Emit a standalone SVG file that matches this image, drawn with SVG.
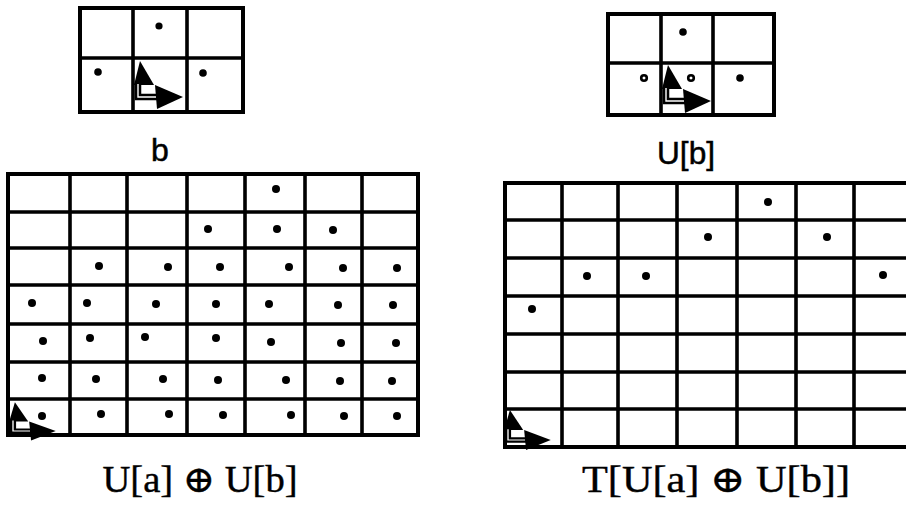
<svg xmlns="http://www.w3.org/2000/svg" width="906" height="509" viewBox="0 0 906 509">
  <style>
    .grid { fill: #fff; stroke: #000; stroke-width: 4; }
    .ln { stroke: #000; stroke-width: 3.6; fill: none; }
    .dot { fill: #000; }
    .ring { fill: #fff; stroke: #000; stroke-width: 2.6; }
    .sans { font-family: "Liberation Sans", Arial, sans-serif; font-size: 32px; fill: #000; stroke: #000; stroke-width: 0.5; text-anchor: middle; }
    .serif { font-family: "Liberation Serif", "DejaVu Serif", serif; font-size: 37px; fill: #000; stroke: #000; stroke-width: 0.4; text-anchor: middle; }
  </style>
  <defs>
    <!-- local frame: corner of the L at the origin, y up is negative -->
    <g id="axes">
      <polygon points="2,-36 -4,-12 16,-12" fill="#000"/>
      <path d="M0,-14 V0 H19" stroke="#000" stroke-width="6.5" fill="none"/>
      <path d="M0,-13 V0 H18" stroke="#fff" stroke-width="1.4" fill="none"/>
      <polygon points="17,-12 19,12 45,0" fill="#000"/>
    </g>
  </defs>
  <rect width="906" height="509" fill="#fff"/>

  <!-- small grid b -->
  <g id="grid-b">
    <rect class="grid" x="80" y="8" width="163" height="104"/>
    <path class="ln" d="M80,58 H243 M133,8 V112 M187,8 V112"/>
    <circle class="dot" cx="159" cy="26" r="3.6"/>
    <circle class="dot" cx="98" cy="72" r="3.8"/>
    <circle class="dot" cx="203" cy="73" r="3.8"/>
    <use href="#axes" transform="translate(138,97)"/>
    <text class="sans" x="160" y="161">b</text>
  </g>

  <!-- small grid U[b] -->
  <g id="grid-ub">
    <rect class="grid" x="608" y="14" width="166" height="101"/>
    <path class="ln" d="M608,63 H774 M661,14 V115 M713,14 V115"/>
    <circle class="dot" cx="683" cy="32" r="3.8"/>
    <circle class="ring" cx="644" cy="78" r="2.8"/>
    <circle class="ring" cx="691" cy="78" r="2.8"/>
    <circle class="dot" cx="740" cy="78" r="3.8"/>
    <use href="#axes" transform="translate(666,101)"/>
    <text class="sans" x="686" y="164" textLength="58" lengthAdjust="spacingAndGlyphs">U[b]</text>
  </g>

  <!-- big grid U[a] (+) U[b] -->
  <g id="grid-sum">
    <rect class="grid" x="8" y="174" width="410" height="261"/>
    <path class="ln" d="M8,212 H418 M8,248 H418 M8,285 H418 M8,324 H418 M8,362 H418 M8,399 H418
      M70,174 V435 M127,174 V435 M187,174 V435 M245,174 V435 M305,174 V435 M362,174 V435"/>
    <g class="dot">
      <circle cx="276" cy="189" r="4"/>
      <circle cx="208" cy="229" r="4"/>
      <circle cx="277" cy="229" r="4"/>
      <circle cx="333" cy="230" r="4"/>
      <circle cx="99" cy="266" r="4"/>
      <circle cx="168" cy="267" r="4"/>
      <circle cx="220" cy="267" r="4"/>
      <circle cx="289" cy="267" r="4"/>
      <circle cx="343" cy="268" r="4"/>
      <circle cx="397" cy="268" r="4"/>
      <circle cx="32" cy="303" r="4"/>
      <circle cx="87" cy="303" r="4"/>
      <circle cx="156" cy="304" r="4"/>
      <circle cx="216" cy="304" r="4"/>
      <circle cx="269" cy="304" r="4"/>
      <circle cx="338" cy="305" r="4"/>
      <circle cx="393" cy="305" r="4"/>
      <circle cx="43" cy="341" r="4"/>
      <circle cx="90" cy="338" r="4"/>
      <circle cx="145" cy="337" r="4"/>
      <circle cx="216" cy="338" r="4"/>
      <circle cx="271" cy="342" r="4"/>
      <circle cx="341" cy="343" r="4"/>
      <circle cx="396" cy="343" r="4"/>
      <circle cx="42" cy="378" r="4"/>
      <circle cx="96" cy="379" r="4"/>
      <circle cx="163" cy="379" r="4"/>
      <circle cx="218" cy="380" r="4"/>
      <circle cx="286" cy="380" r="4"/>
      <circle cx="340" cy="381" r="4"/>
      <circle cx="392" cy="381" r="4"/>
      <circle cx="42" cy="416" r="4"/>
      <circle cx="101" cy="414" r="4"/>
      <circle cx="169" cy="414" r="4"/>
      <circle cx="223" cy="415" r="4"/>
      <circle cx="291" cy="415" r="4"/>
      <circle cx="344" cy="416" r="4"/>
      <circle cx="397" cy="416" r="4"/>
    </g>
    <use href="#axes" transform="translate(13,431) scale(0.95,0.8)"/>
    <text class="serif" x="200" y="492" textLength="195" lengthAdjust="spacingAndGlyphs">U[a] ⊕ U[b]</text>
  </g>

  <!-- big grid T[U[a] (+) U[b]] -->
  <g id="grid-t">
    <rect class="grid" x="505" y="183" width="410" height="264"/>
    <path class="ln" d="M505,220 H915 M505,258 H915 M505,296 H915 M505,334 H915 M505,372 H915 M505,409 H915
      M562,183 V447 M618,183 V447 M677,183 V447 M737,183 V447 M796,183 V447 M854,183 V447"/>
    <g class="dot">
      <circle cx="768" cy="202" r="4"/>
      <circle cx="708" cy="237" r="4"/>
      <circle cx="827" cy="237" r="4"/>
      <circle cx="587" cy="276" r="4"/>
      <circle cx="646" cy="276" r="4"/>
      <circle cx="883" cy="275" r="4"/>
      <circle cx="532" cy="309" r="4"/>
    </g>
    <use href="#axes" transform="translate(508,440) scale(0.95,0.83)"/>
    <text class="serif" x="716" y="492" textLength="268" lengthAdjust="spacingAndGlyphs">T[U[a] ⊕ U[b]]</text>
  </g>
</svg>
